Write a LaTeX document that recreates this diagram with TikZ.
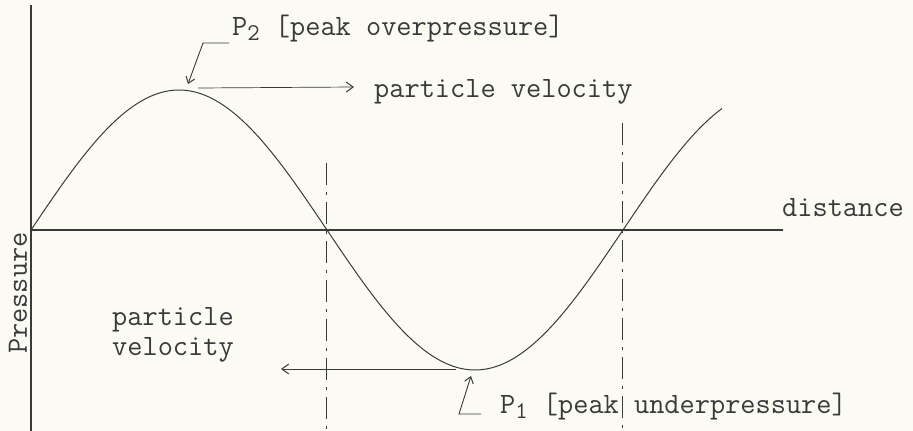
\documentclass[tikz,border=0pt]{standalone}
\usepackage{fontspec}
\usepackage{tikz}
\usetikzlibrary{arrows.meta,positioning}
\definecolor{paper}{HTML}{FBFBF4}
\definecolor{ink}{HTML}{3A3A3A}
\newcommand{\lowsub}[1]{\raisebox{-0.45ex}{\fontsize{24}{26}\selectfont #1}}

\begin{document}
\begin{tikzpicture}[
    x=1pt, y=-1pt,
    axis/.style={draw=ink, line width=1.3pt},
    wave/.style={draw=ink, line width=1pt},
    zeroline/.style={draw=ink, line width=0.8pt, dash pattern=on 22pt off 7pt on 3pt off 7pt},
    flow/.style={draw=ink, line width=0.7pt, -{Straight Barb[length=7pt, width=10pt, line width=1pt]}},
    leader/.style={draw=ink, line width=0.9pt, -{Straight Barb[length=6pt, width=9pt, line width=1pt]}},
    typed/.style={text=ink, font=\ttfamily\fontsize{29.5}{30}\selectfont, inner sep=0pt}
]
  \fill[paper] (0,0) rectangle (913,431);
  \useasboundingbox (0,0) rectangle (913,431);

  % axes
  \coordinate (origin) at (31,230);
  \coordinate (ytop) at (31,5);
  \coordinate (ybot) at (31,431);
  \coordinate (xend) at (783,230);
  \draw[axis] (ytop) -- (ybot);
  \draw[axis] (origin) -- (xend);

  % pressure wave
  \draw[wave] plot[domain=31:722, samples=120, smooth] (\x, {230 - 140*sin((\x-31)/296*180)});

  % nodes of the wave
  \coordinate (zeroA) at (326,163);
  \coordinate (zeroAbot) at (326,431);
  \coordinate (zeroB) at (622,123);
  \coordinate (zeroBbot) at (622,431);
  \draw[zeroline] (zeroA) -- (zeroAbot);
  \draw[zeroline] (zeroB) -- (zeroBbot);

  % particle velocity arrows
  \coordinate (crest) at (198,88);
  \coordinate (crestvel) at (354,87);
  \coordinate (trough) at (456,369);
  \coordinate (troughvel) at (281,369);
  \draw[flow] (crest) -- (crestvel);
  \draw[flow] (trough) -- (troughvel);

  % labels
  \node[typed, anchor=base west] (velup) at (374,97) {particle velocity};
  \node[typed, anchor=base west, align=left] (veldown) at (112,355) {particle\\velocity};
  \node[typed, anchor=base west] (dist) at (782,216) {distance};
  \node[typed, anchor=base west, rotate=90] (press) at (27,354) {Pressure};
  \node[typed, anchor=base west] (ptwo) at (232,35) {P\lowsub{2} [peak overpressure]};
  \node[typed, anchor=base west] (pone) at (500,413) {P\lowsub{1} [peak underpressure]};

  % leaders to the peaks
  \coordinate (ptwoknee) at (203,43);
  \coordinate (ptwotail) at (229,43);
  \coordinate (ptwotip) at (188,84);
  \draw[leader] (ptwotail) -- (ptwoknee) -- (ptwotip);
  \coordinate (oneknee) at (459,414);
  \coordinate (onetail) at (481,414);
  \coordinate (onetip) at (471,376);
  \draw[leader] (onetail) -- (oneknee) -- (onetip);
\end{tikzpicture}
\end{document}
